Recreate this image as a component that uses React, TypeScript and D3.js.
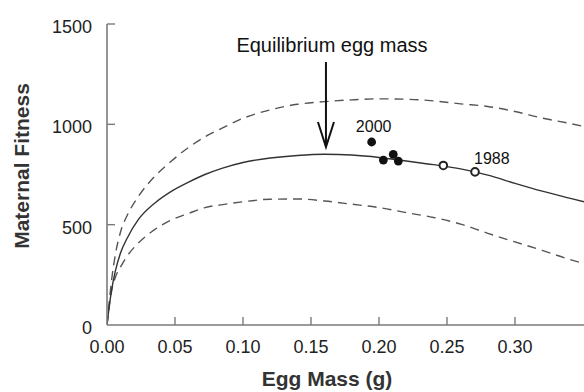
import React from "react";
import * as d3 from "d3";

const eggMass = [0, 0.001, 0.0034, 0.006, 0.01, 0.015, 0.023, 0.035, 0.047, 0.06, 0.072, 0.085, 0.1, 0.12, 0.14, 0.16, 0.18, 0.2, 0.22, 0.24, 0.26, 0.28, 0.3, 0.32, 0.34, 0.36];
const fitnessMean = [0, 58, 175, 265, 360, 435, 525, 607, 665, 712, 750, 782, 810, 832, 845, 851, 847, 835, 817, 799, 778, 747, 706, 667, 632, 598];
const fitnessUpper = [0, 70, 225, 345, 465, 548, 640, 740, 815, 885, 938, 982, 1030, 1072, 1100, 1113, 1122, 1127, 1125, 1117, 1102, 1089, 1064, 1031, 1005, 975];
const fitnessLower = [0, 60, 170, 235, 290, 345, 408, 475, 522, 556, 585, 600, 614, 627, 628, 618, 602, 585, 560, 536, 503, 457, 414, 372, 327, 290];

const filledX = [0.1946, 0.2032, 0.2105, 0.2142];
const filledY = [912, 822, 850, 817];
const openX = [0.2473, 0.2706];
const openY = [795, 763];

const xTicks = [0, 0.05, 0.1, 0.15, 0.2, 0.25, 0.3];
const yTicks = [0, 500, 1000, 1500];
const equilibrium = 0.161;

const W = 584;
const H = 392;
const FONT = "'Liberation Sans', Arial, Helvetica, sans-serif";

export default function App() {
  const x = d3.scaleLinear().domain([0, 0.35]).range([107, 583]);
  const y = d3.scaleLinear().domain([0, 1500]).range([325, 24]);

  const line = d3
    .line<number>()
    .x((_, i) => x(eggMass[i]))
    .y((d) => y(d))
    .curve(d3.curveMonotoneX);

  const axisColor = "#7a7a7a";
  const ax = x(equilibrium);

  return (
    <svg
      width={W}
      height={H}
      style={{ position: "absolute", left: 0, top: 0, background: "#fff" }}
    >
      <defs>
        <clipPath id="plot">
          <rect x={107} y={0} width={W - 107} height={326} />
        </clipPath>
      </defs>
      <g clipPath="url(#plot)" fill="none">
        <path d={line(fitnessUpper) || ""} stroke="#555" strokeWidth={1.4} strokeDasharray="9,6" />
        <path d={line(fitnessLower) || ""} stroke="#555" strokeWidth={1.4} strokeDasharray="9,6" />
        <path d={line(fitnessMean) || ""} stroke="#333" strokeWidth={1.4} />
      </g>

      {/* axes */}
      <line x1={x(0)} x2={W} y1={y(0)} y2={y(0)} stroke={axisColor} strokeWidth={1.6} />
      <line x1={x(0)} x2={x(0)} y1={y(0)} y2={y(1500)} stroke={axisColor} strokeWidth={1.6} />
      {xTicks.slice(1).map((t) => (
        <line key={"xt" + t} x1={x(t)} x2={x(t)} y1={y(0)} y2={y(0) - 8} stroke={axisColor} strokeWidth={1.4} />
      ))}
      {yTicks.slice(1).map((t) => (
        <line key={"yt" + t} x1={x(0)} x2={x(0) + 8} y1={y(t)} y2={y(t)} stroke={axisColor} strokeWidth={1.4} />
      ))}
      {xTicks.map((t) => (
        <text key={"xl" + t} x={x(t)} y={353} textAnchor="middle" fontFamily={FONT} fontSize={18} fill="#222">
          {t.toFixed(2)}
        </text>
      ))}
      {yTicks.map((t) => (
        <text key={"yl" + t} x={92} y={y(t) + 9} textAnchor="end" fontFamily={FONT} fontSize={18} fill="#222">
          {t}
        </text>
      ))}

      <text x={327} y={386} textAnchor="middle" fontFamily={FONT} fontSize={21} fontWeight="bold" fill="#333">
        Egg Mass (g)
      </text>
      <text
        transform="translate(29,166) rotate(-90)"
        textAnchor="middle"
        fontFamily={FONT}
        fontSize={21}
        fontWeight="bold"
        fill="#333"
      >
        Maternal Fitness
      </text>

      {/* annotation */}
      <text x={332} y={52} textAnchor="middle" fontFamily={FONT} fontSize={20} fill="#111">
        Equilibrium egg mass
      </text>
      <g stroke="#111" strokeWidth={2} fill="none">
        <line x1={ax} x2={ax} y1={62} y2={147} />
        <polyline points={`${ax - 8},122 ${ax},147 ${ax + 8},122`} />
      </g>

      {/* data points */}
      {filledX.map((v, i) => (
        <circle key={"f" + i} cx={x(v)} cy={y(filledY[i])} r={4.4} fill="#111" />
      ))}
      {openX.map((v, i) => (
        <circle key={"o" + i} cx={x(v)} cy={y(openY[i])} r={3.8} fill="#fff" stroke="#222" strokeWidth={2} />
      ))}
      <text x={x(filledX[0]) + 2} y={y(filledY[0]) - 10} textAnchor="middle" fontFamily={FONT} fontSize={16} fill="#111">
        2000
      </text>
      <text x={x(openX[1]) - 1} y={y(openY[1]) - 8} textAnchor="start" fontFamily={FONT} fontSize={16} fill="#111">
        1988
      </text>
    </svg>
  );
}
